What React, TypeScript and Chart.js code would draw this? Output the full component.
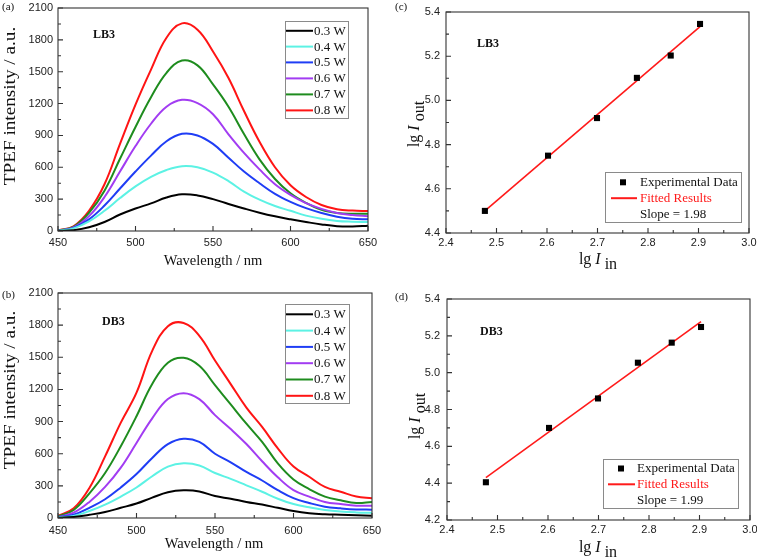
import React, { useEffect, useRef } from "react";
import { Chart, registerables } from "chart.js";

Chart.register(...registerables);

// ---------------- data ----------------
const wavelengths = [450, 460, 470, 480, 490, 500, 510, 520, 530, 540, 550, 560, 570, 580, 590, 600, 610, 620, 630, 640, 650];
const powerLabels = ["0.3 W", "0.4 W", "0.5 W", "0.6 W", "0.7 W", "0.8 W"];
const powerColors = ["#000000", "#5cf2e4", "#1f3df5", "#a23cf2", "#1e8c1e", "#ff1414"];

// LB3 spectra (a)
const lb3_03 = [2, 8, 35, 85, 155, 212, 260, 315, 345, 335, 300, 255, 212, 172, 138, 110, 85, 62, 45, 42, 50];
const lb3_04 = [3, 25, 90, 190, 310, 420, 510, 575, 610, 600, 550, 470, 370, 295, 235, 190, 145, 115, 95, 88, 85];
const lb3_05 = [3, 30, 110, 240, 400, 560, 710, 845, 915, 900, 820, 690, 560, 450, 350, 275, 215, 170, 135, 115, 110];
const lb3_06 = [4, 35, 140, 320, 560, 800, 1010, 1170, 1235, 1205, 1100, 910, 735, 580, 440, 340, 262, 208, 170, 150, 140];
const lb3_07 = [5, 40, 170, 380, 680, 980, 1260, 1490, 1605, 1560, 1380, 1170, 913, 675, 490, 355, 265, 200, 170, 162, 162];
const lb3_08 = [5, 45, 190, 440, 820, 1190, 1520, 1820, 1955, 1895, 1690, 1440, 1130, 840, 600, 430, 320, 245, 205, 192, 188];

// DB3 spectra (b)
const db3_03 = [2, 10, 30, 56, 95, 135, 190, 240, 258, 248, 205, 180, 150, 125, 95, 65, 45, 35, 30, 25, 22];
const db3_04 = [4, 20, 65, 125, 200, 285, 390, 480, 510, 490, 420, 365, 305, 245, 180, 130, 100, 75, 60, 52, 48];
const db3_05 = [6, 30, 95, 175, 285, 410, 560, 690, 740, 710, 600, 520, 430, 350, 260, 185, 140, 105, 90, 80, 78];
const db3_06 = [10, 50, 150, 290, 470, 700, 930, 1110, 1165, 1110, 960, 830, 690, 530, 380, 260, 200, 150, 130, 115, 115];
const db3_07 = [15, 75, 230, 420, 670, 950, 1250, 1450, 1495, 1420, 1240, 1060, 880, 710, 510, 360, 270, 200, 165, 140, 150];
const db3_08 = [20, 90, 280, 575, 890, 1170, 1560, 1790, 1820, 1700, 1470, 1250, 1030, 850, 650, 480, 385, 290, 245, 200, 185];

// log-log fits (c), (d)
const logIin = [2.477, 2.602, 2.699, 2.778, 2.845, 2.903];
const lb3LogIout = [4.5, 4.75, 4.92, 5.102, 5.203, 5.346];
const db3LogIout = [4.405, 4.7, 4.86, 5.054, 5.163, 5.248];
const lb3FitX = [2.477, 2.903];
const lb3FitY = [4.5, 5.334];
const db3FitX = [2.477, 2.903];
const db3FitY = [4.43, 5.277];
const slopes = ["1.98", "1.99"];

// axis ranges [min, max, step]
const spectraXRange = [450, 650, 50];
const spectraYRange = [0, 2100, 300];
const fitXRange = [2.4, 3.0, 0.1];
const lb3YRange = [4.4, 5.4, 0.2];
const db3YRange = [4.2, 5.4, 0.2];

// ---------------- helpers ----------------
const SERIF = '"Liberation Serif", "Times New Roman", serif';
const SANS = '"Liberation Sans", Arial, sans-serif';

type Part = { t: string; italic?: boolean; sub?: boolean };
type Title = { parts: Part[]; x: number; y: number; rotate?: boolean; size: number; subOff: number; stretch?: number };
type Label = { text: string; x: number; y: number; font: string };
type LegendRow = { kind: "line" | "square" | "none"; color: string; text: string; textColor: string };
type Legend = { x0: number; y0: number; x1: number; y1: number; rows: LegendRow[]; rowY: number[]; lineX0: number; lineX1: number; markX: number; textX: number };

type PanelSpec = {
  left: number; top: number; w: number; h: number;
  area: { l: number; r: number; t: number; b: number };
  xRange: number[]; yRange: number[];
  digits: number;
  xPad: number; yPad: number;
  datasets: any[];
  titles: Title[]; labels: Label[]; legend: Legend;
};

function drawRich(ctx: CanvasRenderingContext2D, t: Title) {
  ctx.save();
  ctx.translate(t.x, t.y);
  if (t.rotate) ctx.rotate(-Math.PI / 2);
  if (t.stretch) ctx.scale(t.stretch, 1);
  const fonts = t.parts.map((p) => `${p.italic ? "italic " : ""}${t.size}px ${SERIF}`);
  const widths = t.parts.map((p, i) => {
    ctx.font = fonts[i];
    return ctx.measureText(p.t).width;
  });
  const total = widths.reduce((a, b) => a + b, 0);
  let cx = -total / 2;
  ctx.textAlign = "left";
  ctx.textBaseline = "alphabetic";
  ctx.fillStyle = "#111";
  t.parts.forEach((p, i) => {
    ctx.font = fonts[i];
    ctx.fillText(p.t, cx, p.sub ? t.subOff : 0);
    cx += widths[i];
  });
  ctx.restore();
}

function decorPlugin(spec: PanelSpec) {
  const ox = spec.left;
  const oy = spec.top;
  return {
    id: "decor",
    afterDraw(chart: any) {
      const ctx: CanvasRenderingContext2D = chart.ctx;
      const { left, right, top, bottom } = chart.chartArea;
      const xs = chart.scales.x;
      const ys = chart.scales.y;
      ctx.save();
      // frame
      ctx.strokeStyle = "#333";
      ctx.lineWidth = 1.1;
      ctx.strokeRect(left, top, right - left, bottom - top);
      // ticks (inward, left and bottom)
      const xt = xs.ticks.map((t: any) => t.value);
      const yt = ys.ticks.map((t: any) => t.value);
      ctx.beginPath();
      xt.forEach((v: number, i: number) => {
        const px = xs.getPixelForValue(v);
        ctx.moveTo(px, bottom);
        ctx.lineTo(px, bottom - 5);
        if (i < xt.length - 1) {
          const pm = xs.getPixelForValue((v + xt[i + 1]) / 2);
          ctx.moveTo(pm, bottom);
          ctx.lineTo(pm, bottom - 3);
        }
      });
      yt.forEach((v: number, i: number) => {
        const py = ys.getPixelForValue(v);
        ctx.moveTo(left, py);
        ctx.lineTo(left + 5, py);
        if (i < yt.length - 1) {
          const pm = ys.getPixelForValue((v + yt[i + 1]) / 2);
          ctx.moveTo(left, pm);
          ctx.lineTo(left + 3, pm);
        }
      });
      ctx.stroke();

      // legend
      const lg = spec.legend;
      ctx.fillStyle = "#fff";
      ctx.fillRect(lg.x0 - ox, lg.y0 - oy, lg.x1 - lg.x0, lg.y1 - lg.y0);
      ctx.strokeStyle = "#8a8a8a";
      ctx.lineWidth = 1;
      ctx.strokeRect(lg.x0 - ox + 0.5, lg.y0 - oy + 0.5, lg.x1 - lg.x0, lg.y1 - lg.y0);
      lg.rows.forEach((row, i) => {
        const y = lg.rowY[i] - oy;
        if (row.kind === "line") {
          ctx.strokeStyle = row.color;
          ctx.lineWidth = 2;
          ctx.beginPath();
          ctx.moveTo(lg.lineX0 - ox, y);
          ctx.lineTo(lg.lineX1 - ox, y);
          ctx.stroke();
        } else if (row.kind === "square") {
          ctx.fillStyle = row.color;
          ctx.fillRect(lg.markX - ox - 3, y - 3, 6, 6);
        }
        ctx.fillStyle = row.textColor;
        ctx.font = `13px ${SERIF}`;
        ctx.textAlign = "left";
        ctx.textBaseline = "middle";
        ctx.fillText(row.text, lg.textX - ox, y + 0.5);
      });

      // labels
      spec.labels.forEach((l) => {
        ctx.fillStyle = "#111";
        ctx.font = l.font;
        ctx.textAlign = "left";
        ctx.textBaseline = "middle";
        ctx.fillText(l.text, l.x - ox, l.y - oy);
      });
      // axis titles
      spec.titles.forEach((t) => drawRich(ctx, { ...t, x: t.x - ox, y: t.y - oy }));
      ctx.restore();
    },
  };
}

function Panel({ spec }: { spec: PanelSpec }) {
  const ref = useRef<HTMLCanvasElement | null>(null);
  useEffect(() => {
    if (!ref.current) return;
    const a = spec.area;
    const yw = a.l - spec.left;
    const xh = spec.top + spec.h - a.b;
    const fmt = (v: any) => (spec.digits ? Number(v).toFixed(spec.digits) : String(Math.round(Number(v))));
    const chart = new Chart(ref.current, {
      type: "line",
      data: { datasets: spec.datasets },
      options: {
        responsive: false,
        animation: false,
        layout: { padding: { top: a.t - spec.top, right: spec.left + spec.w - a.r, left: 0, bottom: 0 } },
        plugins: { legend: { display: false }, tooltip: { enabled: false } },
        elements: { point: { radius: 0 } },
        scales: {
          x: {
            type: "linear",
            min: spec.xRange[0],
            max: spec.xRange[1],
            ticks: {
              stepSize: spec.xRange[2],
              autoSkip: false,
              maxRotation: 0,
              padding: spec.xPad,
              color: "#222",
              font: { family: SANS, size: 11 },
              callback: fmt,
            },
            grid: { display: false, drawTicks: false },
            border: { display: false },
            afterFit: (s: any) => {
              s.height = xh;
              s.paddingLeft = 0;
              s.paddingRight = 0;
            },
          },
          y: {
            type: "linear",
            min: spec.yRange[0],
            max: spec.yRange[1],
            ticks: {
              stepSize: spec.yRange[2],
              autoSkip: false,
              padding: spec.yPad,
              color: "#222",
              font: { family: SANS, size: 11 },
              callback: fmt,
            },
            grid: { display: false, drawTicks: false },
            border: { display: false },
            afterFit: (s: any) => {
              s.width = yw;
              s.paddingTop = 0;
              s.paddingBottom = 0;
            },
          },
        },
      } as any,
      plugins: [decorPlugin(spec) as any],
    });
    return () => chart.destroy();
  }, [spec]);
  return (
    <canvas
      ref={ref}
      width={spec.w}
      height={spec.h}
      style={{ position: "absolute", left: spec.left, top: spec.top, width: spec.w, height: spec.h }}
    />
  );
}

function spectraDatasets(series: number[][]) {
  return series.map((vals, i) => ({
    label: powerLabels[i],
    data: wavelengths.map((w, j) => ({ x: w, y: vals[j] })),
    borderColor: powerColors[i],
    borderWidth: 2,
    pointRadius: 0,
    fill: false,
    tension: 0.4,
  }));
}

function fitDatasets(yVals: number[], fx: number[], fy: number[]) {
  return [
    {
      label: "Fitted Results",
      data: fx.map((x, i) => ({ x, y: fy[i] })),
      borderColor: "#ff1a1a",
      borderWidth: 1.6,
      pointRadius: 0,
      fill: false,
      order: 2,
    },
    {
      label: "Experimental Data",
      data: logIin.map((x, i) => ({ x, y: yVals[i] })),
      showLine: false,
      pointStyle: "rect",
      pointRadius: 4.3,
      pointBackgroundColor: "#000",
      pointBorderColor: "#000",
      pointBorderWidth: 0,
      order: 1,
    },
  ];
}

function spectraLegendRows(): LegendRow[] {
  return powerLabels.map((l, i) => ({ kind: "line", color: powerColors[i], text: l, textColor: "#111" }));
}

function fitLegendRows(slope: string): LegendRow[] {
  return [
    { kind: "square", color: "#000", text: "Experimental Data", textColor: "#111" },
    { kind: "line", color: "#ff1a1a", text: "Fitted Results", textColor: "#ff1a1a" },
    { kind: "none", color: "", text: `Slope = ${slope}`, textColor: "#111" },
  ];
}

const wavelengthTitle: Part[] = [{ t: "Wavelength / nm" }];
const tpefTitle: Part[] = [{ t: "TPEF intensity / a.u." }];
const iinTitle: Part[] = [{ t: "lg " }, { t: "I", italic: true }, { t: " " }, { t: "in", sub: true }];
const ioutTitle: Part[] = [{ t: "lg " }, { t: "I", italic: true }, { t: " " }, { t: "out", sub: true }];

const BOLD = `bold 12px ${SERIF}`;
const SMALL = `11px ${SERIF}`;

const panelA: PanelSpec = {
  left: 0, top: 0, w: 392, h: 280,
  area: { l: 58, r: 368, t: 8, b: 231 },
  xRange: spectraXRange, yRange: spectraYRange, digits: 0, xPad: 5, yPad: 5,
  datasets: spectraDatasets([lb3_03, lb3_04, lb3_05, lb3_06, lb3_07, lb3_08]),
  titles: [
    { parts: wavelengthTitle, x: 213, y: 265, size: 14.5, subOff: 0 },
    { parts: tpefTitle, x: 15, y: 106, rotate: true, size: 16, subOff: 0, stretch: 1.2 },
  ],
  labels: [
    { text: "(a)", x: 2, y: 7, font: SMALL },
    { text: "LB3", x: 93, y: 35, font: BOLD },
  ],
  legend: {
    x0: 285, y0: 21, x1: 348, y1: 118, rows: spectraLegendRows(),
    rowY: [30.8, 46.6, 62.4, 78.4, 94.4, 110.4], lineX0: 286, lineX1: 313, markX: 0, textX: 314,
  },
};

const panelB: PanelSpec = {
  left: 0, top: 280, w: 392, h: 279,
  area: { l: 58, r: 372, t: 293, b: 518 },
  xRange: spectraXRange, yRange: spectraYRange, digits: 0, xPad: 6, yPad: 5,
  datasets: spectraDatasets([db3_03, db3_04, db3_05, db3_06, db3_07, db3_08]),
  titles: [
    { parts: wavelengthTitle, x: 214, y: 548, size: 14.5, subOff: 0 },
    { parts: tpefTitle, x: 15, y: 390, rotate: true, size: 16, subOff: 0, stretch: 1.2 },
  ],
  labels: [
    { text: "(b)", x: 2, y: 295, font: SMALL },
    { text: "DB3", x: 102, y: 322, font: BOLD },
  ],
  legend: {
    x0: 285, y0: 304, x1: 349, y1: 403, rows: spectraLegendRows(),
    rowY: [314.3, 330.6, 346.9, 363.2, 379.5, 395.8], lineX0: 286, lineX1: 313, markX: 0, textX: 314,
  },
};

const panelC: PanelSpec = {
  left: 380, top: 0, w: 377, h: 280,
  area: { l: 446, r: 749, t: 12, b: 233 },
  xRange: fitXRange, yRange: lb3YRange, digits: 1, xPad: 3, yPad: 6,
  datasets: fitDatasets(lb3LogIout, lb3FitX, lb3FitY),
  titles: [
    { parts: iinTitle, x: 598, y: 264, size: 16, subOff: 5 },
    { parts: ioutTitle, x: 419, y: 124, rotate: true, size: 16, subOff: 5 },
  ],
  labels: [
    { text: "(c)", x: 395, y: 7, font: SMALL },
    { text: "LB3", x: 477, y: 44, font: BOLD },
  ],
  legend: {
    x0: 605, y0: 172, x1: 741, y1: 222, rows: fitLegendRows(slopes[0]),
    rowY: [182.3, 198.2, 214], lineX0: 611, lineX1: 637, markX: 623, textX: 640,
  },
};

const panelD: PanelSpec = {
  left: 380, top: 280, w: 377, h: 279,
  area: { l: 447, r: 750, t: 299, b: 520 },
  xRange: fitXRange, yRange: db3YRange, digits: 1, xPad: 3, yPad: 7,
  datasets: fitDatasets(db3LogIout, db3FitX, db3FitY),
  titles: [
    { parts: iinTitle, x: 598, y: 552, size: 16, subOff: 5 },
    { parts: ioutTitle, x: 420, y: 416, rotate: true, size: 16, subOff: 5 },
  ],
  labels: [
    { text: "(d)", x: 395, y: 297, font: SMALL },
    { text: "DB3", x: 480, y: 332, font: BOLD },
  ],
  legend: {
    x0: 603, y0: 459, x1: 738, y1: 508, rows: fitLegendRows(slopes[1]),
    rowY: [468.5, 484.3, 500], lineX0: 608, lineX1: 635, markX: 621, textX: 637,
  },
};

const panels = [panelC, panelD, panelA, panelB];

export default function App() {
  return (
    <div style={{ position: "absolute", left: 0, top: 0, width: 757, height: 559, background: "#fff", overflow: "hidden" }}>
      {panels.map((p, i) => (
        <Panel key={i} spec={p} />
      ))}
    </div>
  );
}
